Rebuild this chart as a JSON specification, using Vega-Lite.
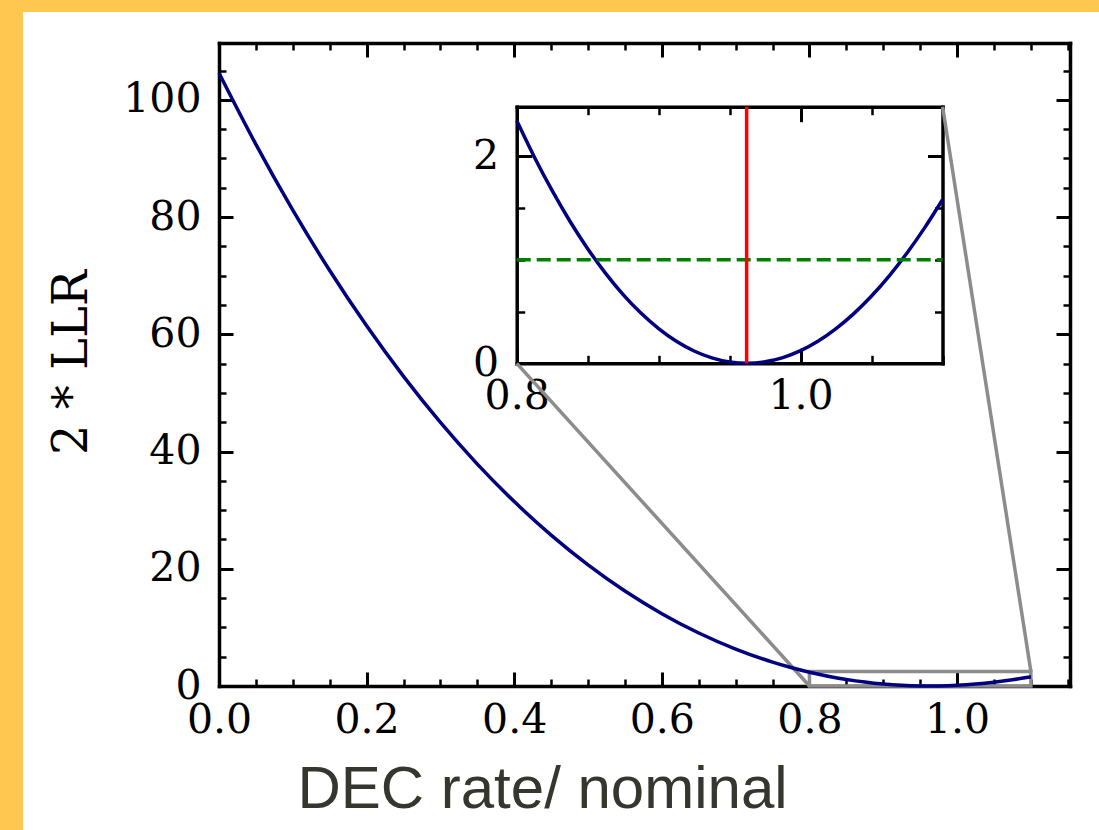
{
  "$schema": "https://vega.github.io/schema/vega-lite/v6.json",
  "width": 851,
  "height": 643,
  "autosize": {"type": "none"},
  "padding": {"left": 219, "top": 43, "right": 29, "bottom": 144},
  "background": "#FFFFFF",
  "config": {
    "view": {"stroke": null},
    "axis": {
      "zindex": 1,
      "grid": false,
      "labelFont": "DejaVu Serif",
      "labelFontSize": 41,
      "labelColor": "#000000",
      "domainColor": "#000000",
      "domainWidth": 3.5,
      "domainCap": "square",
      "tickColor": "#000000",
      "labelFlush": false,
      "labelOverlap": false,
      "labelBound": false,
      "title": null
    }
  },
  "datasets": {
    "canvas": [{"part": "border"}],
    "curve": [
      {"x": 0, "y": 104.58}, {"x": 0.05, "y": 92.40}, {"x": 0.1, "y": 81.18}, {"x": 0.15, "y": 70.88},
      {"x": 0.2, "y": 61.44}, {"x": 0.25, "y": 52.82}, {"x": 0.3, "y": 44.96}, {"x": 0.35, "y": 37.86},
      {"x": 0.4, "y": 31.46}, {"x": 0.45, "y": 25.74}, {"x": 0.5, "y": 20.66}, {"x": 0.55, "y": 16.20},
      {"x": 0.6, "y": 12.34}, {"x": 0.65, "y": 9.04}, {"x": 0.7, "y": 6.30}, {"x": 0.75, "y": 4.07},
      {"x": 0.775, "y": 3.146}, {"x": 0.8, "y": 2.346}, {"x": 0.8125, "y": 1.992}, {"x": 0.825, "y": 1.668},
      {"x": 0.8375, "y": 1.373}, {"x": 0.85, "y": 1.108}, {"x": 0.8625, "y": 0.872}, {"x": 0.875, "y": 0.664},
      {"x": 0.8875, "y": 0.486}, {"x": 0.9, "y": 0.336}, {"x": 0.9125, "y": 0.213}, {"x": 0.925, "y": 0.119},
      {"x": 0.9375, "y": 0.052}, {"x": 0.95, "y": 0.0125}, {"x": 0.9625, "y": 0.0}, {"x": 0.975, "y": 0.0143},
      {"x": 0.9875, "y": 0.0552}, {"x": 1.0, "y": 0.1224}, {"x": 1.0125, "y": 0.2157}, {"x": 1.025, "y": 0.3349},
      {"x": 1.0375, "y": 0.4798}, {"x": 1.05, "y": 0.650}, {"x": 1.0625, "y": 0.8455}, {"x": 1.075, "y": 1.066},
      {"x": 1.0875, "y": 1.311}, {"x": 1.1, "y": 1.581}
    ],
    "zoomBox": [{"x": 0.8, "x2": 1.1, "y": 0, "y2": 2.48}],
    "connectors": [
      {"x": 0.4034, "y": 55.05, "x2": 0.8, "y2": 0},
      {"x": 0.9804, "y": 98.83, "x2": 1.1, "y2": 2.48}
    ],
    "threshold": [{"x": 0.8, "y": 1}, {"x": 1.1, "y": 1}],
    "bestFit": [{"x": 0.962, "y": 0, "y2": 2.48}]
  },
  "resolve": {
    "scale": {"x": "independent", "y": "independent"},
    "axis": {"x": "independent", "y": "independent"}
  },
  "layer": [
    {
      "data": {"name": "canvas"},
      "mark": {"type": "rect", "fill": "#FFC74F", "clip": false},
      "encoding": {
        "x": {"datum": -0.6, "type": "quantitative", "scale": {"domain": [0, 1.153], "nice": false, "zero": false}, "axis": null},
        "x2": {"datum": -0.2656},
        "y": {"datum": 140, "type": "quantitative", "scale": {"domain": [0, 109.7], "nice": false, "zero": false}, "axis": null},
        "y2": {"datum": -40}
      }
    },
    {
      "data": {"name": "canvas"},
      "mark": {"type": "rect", "fill": "#FFC74F", "clip": false},
      "encoding": {
        "x": {"datum": -0.6, "type": "quantitative", "scale": {"domain": [0, 1.153], "nice": false, "zero": false}, "axis": null},
        "x2": {"datum": 1.6},
        "y": {"datum": 140, "type": "quantitative", "scale": {"domain": [0, 109.7], "nice": false, "zero": false}, "axis": null},
        "y2": {"datum": 115.0}
      }
    },
    {
      "data": {"name": "zoomBox"},
      "mark": {"type": "rect", "fill": null, "fillOpacity": 0, "stroke": "#8C8C8C", "strokeWidth": 3.5},
      "encoding": {
        "x": {"field": "x", "type": "quantitative", "scale": {"domain": [0, 1.153], "nice": false, "zero": false},
          "axis": {"orient": "top", "labels": false,
            "values": [0,0.05,0.1,0.15,0.2,0.25,0.3,0.35,0.4,0.45,0.5,0.55,0.6,0.65,0.7,0.75,0.8,0.85,0.9,0.95,1.0,1.05,1.1,1.15],
            "tickSize": {"condition": {"test": "abs(datum.value*5 - round(datum.value*5)) < 0.000001", "value": -14}, "value": -7},
            "tickWidth": {"condition": {"test": "abs(datum.value*5 - round(datum.value*5)) < 0.000001", "value": 3}, "value": 2.5}}},
        "x2": {"field": "x2"},
        "y": {"field": "y", "type": "quantitative", "scale": {"domain": [0, 109.7], "nice": false, "zero": false},
          "axis": {"orient": "right", "labels": false,
            "values": [0,5,10,15,20,25,30,35,40,45,50,55,60,65,70,75,80,85,90,95,100,105],
            "tickSize": {"condition": {"test": "datum.value % 20 == 0", "value": -14}, "value": -7},
            "tickWidth": {"condition": {"test": "datum.value % 20 == 0", "value": 3}, "value": 2.5}}},
        "y2": {"field": "y2"}
      }
    },
    {
      "data": {"name": "connectors"},
      "mark": {"type": "rule", "stroke": "#8C8C8C", "strokeWidth": 3.5},
      "encoding": {
        "x": {"field": "x", "type": "quantitative", "scale": {"domain": [0, 1.153], "nice": false, "zero": false}, "axis": null},
        "x2": {"field": "x2"},
        "y": {"field": "y", "type": "quantitative", "scale": {"domain": [0, 109.7], "nice": false, "zero": false}, "axis": null},
        "y2": {"field": "y2"}
      }
    },
    {
      "data": {"name": "curve"},
      "mark": {"type": "line", "stroke": "#000080", "strokeWidth": 3.5, "interpolate": "monotone"},
      "encoding": {
        "x": {"field": "x", "type": "quantitative", "scale": {"domain": [0, 1.153], "nice": false, "zero": false},
          "axis": {"orient": "bottom",
            "values": [0,0.05,0.1,0.15,0.2,0.25,0.3,0.35,0.4,0.45,0.5,0.55,0.6,0.65,0.7,0.75,0.8,0.85,0.9,0.95,1.0,1.05,1.1,1.15],
            "labelExpr": "abs(datum.value*5 - round(datum.value*5)) < 0.000001 ? format(datum.value, '.1f') : ''",
            "labelPadding": 28,
            "tickSize": {"condition": {"test": "abs(datum.value*5 - round(datum.value*5)) < 0.000001", "value": -14}, "value": -7},
            "tickWidth": {"condition": {"test": "abs(datum.value*5 - round(datum.value*5)) < 0.000001", "value": 3}, "value": 2.5},
            "title": "DEC rate/ nominal",
            "titleFont": "Liberation Sans",
            "titleFontSize": 60,
            "titleFontWeight": "normal",
            "titleColor": "#36362E",
            "titleX": 323,
            "titleY": 121,
            "titleAlign": "center",
            "titleBaseline": "alphabetic"}},
        "y": {"field": "y", "type": "quantitative", "scale": {"domain": [0, 109.7], "nice": false, "zero": false},
          "axis": {"orient": "left",
            "values": [0,5,10,15,20,25,30,35,40,45,50,55,60,65,70,75,80,85,90,95,100,105],
            "labelExpr": "datum.value % 20 == 0 ? datum.label : ''",
            "labelPadding": 32,
            "tickSize": {"condition": {"test": "datum.value % 20 == 0", "value": -14}, "value": -7},
            "tickWidth": {"condition": {"test": "datum.value % 20 == 0", "value": 3}, "value": 2.5},
            "title": "2 * LLR",
            "titleFont": "DejaVu Serif",
            "titleFontSize": 48,
            "titleFontWeight": "normal",
            "titleColor": "#000000",
            "titleAngle": -90,
            "titleX": -133,
            "titleY": 319,
            "titleAlign": "center",
            "titleBaseline": "alphabetic"}}
      }
    },
    {
      "data": {"name": "curve"},
      "transform": [{"filter": "datum.x >= 0.7999"}],
      "mark": {"type": "line", "stroke": "#000080", "strokeWidth": 3.5, "interpolate": "monotone", "clip": true},
      "encoding": {
        "x": {"field": "x", "type": "quantitative", "scale": {"domain": [0.8, 1.1], "range": [297.7, 723.5], "nice": false, "zero": false},
          "axis": {"orient": "bottom", "offset": -322.7,
            "values": [0.8,0.85,0.9,0.95,1.0,1.05,1.1],
            "labelExpr": "abs(datum.value*5 - round(datum.value*5)) < 0.000001 ? format(datum.value, '.1f') : ''",
            "labelPadding": 28,
            "tickSize": {"condition": {"test": "abs(datum.value*5 - round(datum.value*5)) < 0.000001", "value": -15}, "value": -8},
            "tickWidth": {"condition": {"test": "abs(datum.value*5 - round(datum.value*5)) < 0.000001", "value": 3}, "value": 2.5}}},
        "y": {"field": "y", "type": "quantitative", "scale": {"domain": [0, 2.48], "range": [320.3, 63.7], "nice": false, "zero": false},
          "axis": {"orient": "left", "offset": -297.7,
            "values": [0,0.5,1,1.5,2],
            "labelExpr": "datum.value % 2 == 0 ? format(datum.value, 'd') : ''",
            "labelPadding": 33,
            "tickSize": {"condition": {"test": "datum.value % 2 == 0", "value": -15}, "value": -8},
            "tickWidth": {"condition": {"test": "datum.value % 2 == 0", "value": 3}, "value": 2.5}}}
      }
    },
    {
      "data": {"name": "threshold"},
      "mark": {"type": "line", "stroke": "#008000", "strokeWidth": 3.5, "strokeDash": [14, 6]},
      "encoding": {
        "x": {"field": "x", "type": "quantitative", "scale": {"domain": [0.8, 1.1], "range": [297.7, 723.5], "nice": false, "zero": false},
          "axis": {"orient": "top", "offset": -63.7, "labels": false,
            "values": [0.8,0.85,0.9,0.95,1.0,1.05,1.1],
            "tickSize": {"condition": {"test": "abs(datum.value*5 - round(datum.value*5)) < 0.000001", "value": -15}, "value": -8},
            "tickWidth": {"condition": {"test": "abs(datum.value*5 - round(datum.value*5)) < 0.000001", "value": 3}, "value": 2.5}}},
        "y": {"field": "y", "type": "quantitative", "scale": {"domain": [0, 2.48], "range": [320.3, 63.7], "nice": false, "zero": false},
          "axis": {"orient": "right", "offset": -127.5, "labels": false,
            "values": [0,0.5,1,1.5,2],
            "tickSize": {"condition": {"test": "datum.value % 2 == 0", "value": -15}, "value": -8},
            "tickWidth": {"condition": {"test": "datum.value % 2 == 0", "value": 3}, "value": 2.5}}}
      }
    },
    {
      "data": {"name": "bestFit"},
      "mark": {"type": "rule", "stroke": "#FF0000", "strokeWidth": 3.5},
      "encoding": {
        "x": {"field": "x", "type": "quantitative", "scale": {"domain": [0.8, 1.1], "range": [297.7, 723.5], "nice": false, "zero": false}, "axis": null},
        "y": {"field": "y", "type": "quantitative", "scale": {"domain": [0, 2.48], "range": [320.3, 63.7], "nice": false, "zero": false}, "axis": null},
        "y2": {"field": "y2"}
      }
    }
  ]
}
